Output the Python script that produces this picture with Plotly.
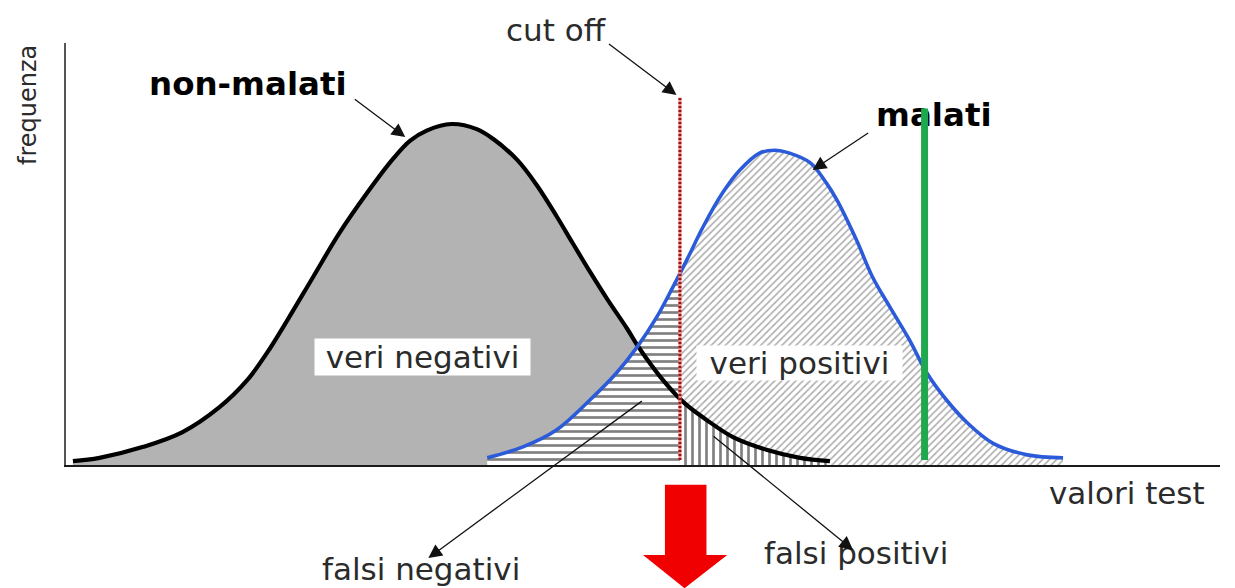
import numpy as np
import plotly.graph_objects as go

# Distribution of test values in the non-diseased population (valori test, frequenza)
non_malati_x = [0.6, 2.9, 6.7, 10.1, 13.3, 15.7, 17.4, 19.2, 21.4, 23.7, 26.1, 28.3, 29.8, 31.3, 33.4,
                35.6, 37.0, 39.1, 40.8, 42.5, 43.9, 45.4, 46.9, 48.6, 49.7, 51.5, 53.5, 55.5, 57.8,
                60.7, 63.6, 66.2]
non_malati_y = [0.9, 1.7, 4.3, 7.8, 13.7, 20.1, 26.5, 34.4, 44.5, 55.0, 64.5, 72.4, 76.8, 79.3, 80.8,
                79.6, 77.3, 72.3, 66.3, 59.0, 52.6, 45.8, 39.3, 32.4, 27.6, 20.9, 14.9, 10.7, 6.6,
                3.6, 1.7, 0.9]

# Distribution of test values in the diseased population
malati_x = [36.5, 39.6, 42.5, 45.4, 47.7, 49.5, 51.2, 52.6, 53.8, 55.2, 56.9, 58.4, 60.1, 61.4,
            62.7, 64.5, 65.9, 66.8, 68.5, 69.9, 71.4, 73.1, 74.6, 76.3, 78.1, 80.3, 83.3, 86.4]
malati_y = [1.7, 4.3, 8.3, 15.4, 21.8, 28.0, 35.1, 42.2, 48.6, 56.4, 64.5, 69.9, 73.9, 74.6,
            73.9, 71.6, 66.8, 62.8, 53.3, 44.5, 37.4, 29.6, 21.8, 15.4, 10.0, 5.2, 2.4, 1.7]

# Decision threshold and an alternative (stricter) threshold
cut_off = 53.2
soglia_alternativa = 74.4

FONT = "DejaVu Sans"
TXT = "#2b2b2b"
SMOOTH = 1.0


def split_at(xs, ys, at):
    """Split a curve into the part left and right of a threshold."""
    xs = np.asarray(xs, dtype=float)
    ys = np.asarray(ys, dtype=float)
    yc = float(np.interp(at, xs, ys))
    m = xs < at
    left = (list(xs[m]) + [at], list(ys[m]) + [yc])
    right = ([at] + list(xs[~m]), [yc] + list(ys[~m]))
    return left, right


(nm_lx, nm_ly), (nm_rx, nm_ry) = split_at(non_malati_x, non_malati_y, cut_off)
(m_lx, m_ly), (m_rx, m_ry) = split_at(malati_x, malati_y, cut_off)

fig = go.Figure()


def area(x, y, **kw):
    fig.add_trace(go.Scatter(x=x, y=y, mode="lines", fill="tozeroy",
                             line=dict(width=0, shape="spline", smoothing=SMOOTH),
                             hoverinfo="skip", **kw))


# veri negativi: grey area under the non-diseased curve, left of the cut-off
area(nm_lx, nm_ly, fillcolor="#b3b3b3")
# falsi negativi: diseased below the cut-off (horizontal hatching)
area(m_lx, m_ly, fillcolor="white",
     fillpattern=dict(shape="-", fgcolor="#000000", bgcolor="white", size=7, solidity=0.38))
# veri positivi: diseased above the cut-off (diagonal hatching)
area(m_rx, m_ry, fillcolor="white",
     fillpattern=dict(shape="/", fgcolor="#5a5a5a", bgcolor="white", size=5, solidity=0.32))
# falsi positivi: non-diseased above the cut-off (vertical hatching)
area(nm_rx, nm_ry, fillcolor="white",
     fillpattern=dict(shape="|", fgcolor="#000000", bgcolor="white", size=7, solidity=0.38))

# the two distribution outlines
fig.add_trace(go.Scatter(x=non_malati_x, y=non_malati_y, mode="lines",
                         line=dict(color="#000000", width=4.2, shape="spline", smoothing=SMOOTH),
                         hoverinfo="skip"))
fig.add_trace(go.Scatter(x=malati_x, y=malati_y, mode="lines",
                         line=dict(color="#2b5bd8", width=3.6, shape="spline", smoothing=SMOOTH),
                         hoverinfo="skip"))

# cut-off line (red, dotted)
fig.add_trace(go.Scatter(x=[cut_off, cut_off], y=[1.2, 87.0], mode="lines",
                         line=dict(color="#f08a8a", width=3), hoverinfo="skip"))
fig.add_trace(go.Scatter(x=[cut_off, cut_off], y=[1.2, 87.0], mode="lines",
                         line=dict(color="#9a1414", width=3, dash="2px,2px"), hoverinfo="skip"))

# label of the diseased curve, partly covered by the green threshold
fig.add_trace(go.Scatter(x=[75.2], y=[82.2], mode="text", text=["malati"],
                         textposition="middle center",
                         textfont=dict(family=FONT, size=32.5, color="#000000", weight="bold"),
                         hoverinfo="skip"))

# alternative threshold (green)
fig.add_trace(go.Scatter(x=[soglia_alternativa, soglia_alternativa], y=[1.2, 84.5], mode="lines",
                         line=dict(color="#1fa84e", width=7), hoverinfo="skip"))

arrow = dict(showarrow=True, text="", arrowhead=2, arrowsize=2.1, arrowwidth=1.3,
             arrowcolor="#111111", standoff=0, startstandoff=0)
centred = dict(xanchor="center", yanchor="middle", showarrow=False)

annotations = [
    # axis titles
    dict(text="frequenza", xref="paper", yref="paper", x=-0.033, y=0.853, textangle=-90,
         font=dict(family=FONT, size=24, color=TXT), **centred),
    dict(text="valori test", xref="paper", yref="paper", x=0.919, y=-0.066,
         font=dict(family=FONT, size=31, color=TXT), **centred),
    # curve labels
    dict(text="non-malati", xref="x", yref="y", x=15.8, y=90.3,
         font=dict(family=FONT, size=32.5, color="#000000", weight="bold"), **centred),
    dict(text="cut off", xref="x", yref="paper", x=42.5, y=1.031,
         font=dict(family=FONT, size=31, color=TXT), **centred),
    # region labels
    dict(text="veri negativi", xref="x", yref="y", x=30.9, y=25.6,
         bgcolor="white", width=215, height=36, borderpad=0,
         font=dict(family=FONT, size=31, color=TXT), **centred),
    dict(text="veri positivi", xref="x", yref="y", x=63.6, y=24.2,
         bgcolor="white", width=205, height=34, borderpad=0,
         font=dict(family=FONT, size=31, color=TXT), **centred),
    dict(text="falsi negativi", xref="x", yref="paper", x=30.8, y=-0.2455,
         font=dict(family=FONT, size=31, color=TXT), **centred),
    dict(text="falsi positivi", xref="x", yref="paper", x=68.5, y=-0.2085,
         font=dict(family=FONT, size=31, color=TXT), **centred),
    # pointer arrows
    dict(xref="x", yref="y", x=29.4, y=77.7, ax=-52, ay=-39, **arrow),
    dict(xref="x", yref="y", x=52.9, y=87.7, ax=-69, ay=-52, **arrow),
    dict(xref="x", yref="y", x=64.7, y=69.9, ax=57, ay=-38, **arrow),
    dict(xref="x", yref="paper", x=31.4, y=-0.2204, ax=215, ay=-158, **arrow),
    dict(xref="x", yref="paper", x=68.2, y=-0.2014, ax=-141, ay=-115, **arrow),
]

# big red arrow under the cut-off
red_arrow = dict(
    type="path", xref="x", yref="paper", layer="above",
    path="M 51.9,-0.047 L 55.5,-0.047 L 55.5,-0.213 L 57.3,-0.213 "
         "L 53.6,-0.292 L 50.0,-0.213 L 51.9,-0.213 Z",
    fillcolor="#f00000", line=dict(width=0),
)

axis_common = dict(range=[0, 100], showticklabels=False, ticks="", showgrid=False,
                   zeroline=False, showline=True, fixedrange=True)

fig.update_layout(
    width=1235, height=588, autosize=False,
    margin=dict(l=66, r=15, t=43, b=123, pad=0),
    paper_bgcolor="white", plot_bgcolor="white",
    showlegend=False, hovermode=False,
    xaxis=dict(linecolor="#1a1a1a", linewidth=1.6, **axis_common),
    yaxis=dict(linecolor="#555555", linewidth=2, **axis_common),
    annotations=annotations,
    shapes=[red_arrow],
)

fig.write_html("out.html")
